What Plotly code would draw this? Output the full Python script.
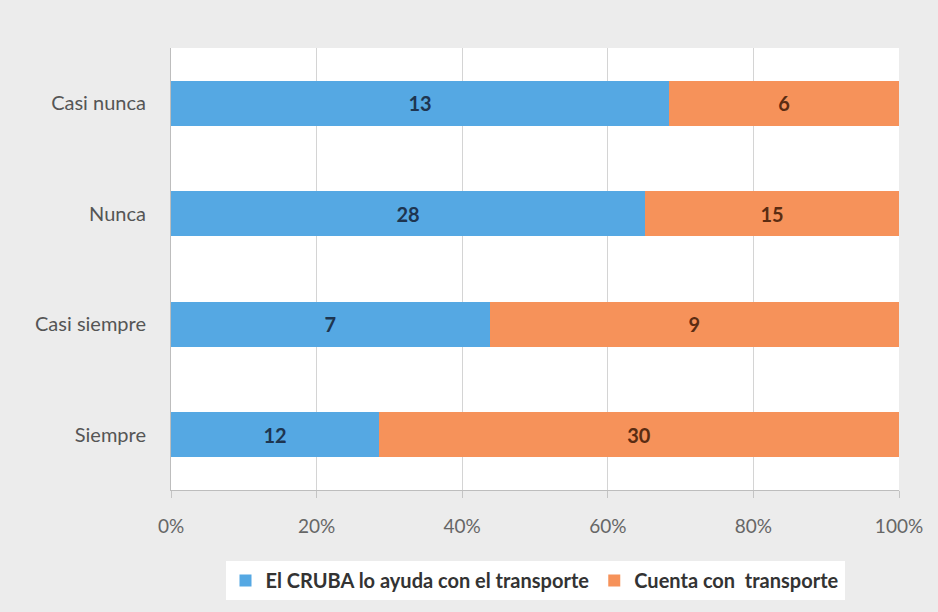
import plotly.graph_objects as go

categories = ["Siempre", "Casi siempre", "Nunca", "Casi nunca"]
cruba_ayuda = [12, 7, 28, 13]
cuenta_transporte = [30, 9, 15, 6]
series_names = ["El CRUBA lo ayuda con el transporte", "Cuenta con  transporte"]
tick_vals = [0, 20, 40, 60, 80, 100]
tick_text = ["0%", "20%", "40%", "60%", "80%", "100%"]

font_family = "Lato, 'Open Sans', sans-serif"

fig = go.Figure()
fig.add_trace(go.Bar(
    y=categories, x=cruba_ayuda, name=series_names[0], orientation="h",
    marker=dict(color="#55a8e3", line=dict(width=0)),
    text=cruba_ayuda, textposition="inside", insidetextanchor="middle",
    textfont=dict(family=font_family, size=20, color="#1e3550", weight="bold"),
))
fig.add_trace(go.Bar(
    y=categories, x=cuenta_transporte, name=series_names[1], orientation="h",
    marker=dict(color="#f6925a", line=dict(width=0)),
    text=cuenta_transporte, textposition="inside", insidetextanchor="middle",
    textfont=dict(family=font_family, size=20, color="#5a2c12", weight="bold"),
))

fig.update_layout(
    width=938, height=612,
    barmode="stack", barnorm="percent", bargap=0.59,
    paper_bgcolor="#ececec", plot_bgcolor="#ffffff",
    margin=dict(l=171, r=39, t=48, b=120),
    font=dict(family=font_family, color="#555555"),
    legend=dict(
        orientation="h", x=0.5, xanchor="center", y=-0.205, yanchor="middle",
        bgcolor="#ffffff", font=dict(family=font_family, size=20, color="#333333", weight="bold"),
        traceorder="normal", itemwidth=30,
    ),
    xaxis=dict(
        range=[0, 100], tickvals=tick_vals, ticktext=tick_text,
        showgrid=True, gridcolor="#d4d4d4", gridwidth=1,
        showline=True, linecolor="#bdbdbd", zeroline=False,
        tickfont=dict(family=font_family, size=19, color="#666666"),
        ticks="outside", ticklen=7, tickcolor="#c4c4c4",
        ticklabelstandoff=12, fixedrange=True,
    ),
    yaxis=dict(
        categoryorder="array", categoryarray=categories,
        showline=True, linecolor="#bdbdbd",
        tickfont=dict(family=font_family, size=20, color="#555555"),
        ticks="", ticklabelstandoff=20, fixedrange=True,
    ),
)

fig.write_html("out.html")
